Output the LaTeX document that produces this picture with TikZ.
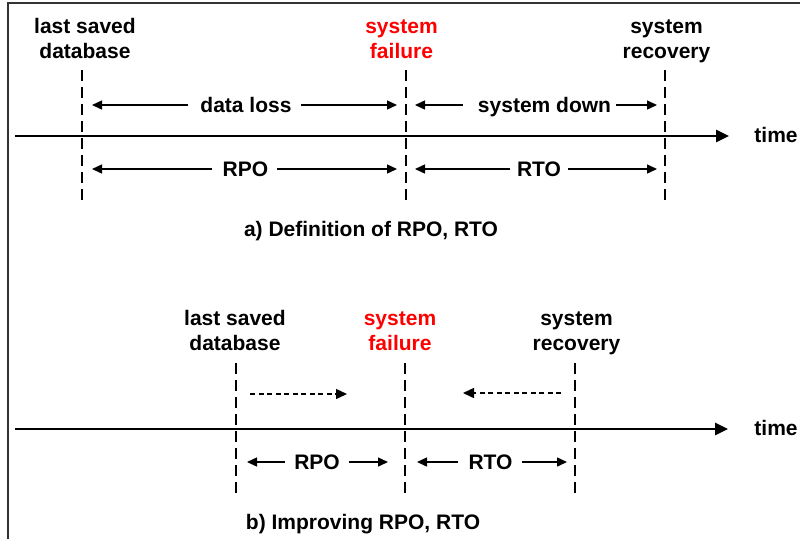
\documentclass[tikz,border=0pt]{standalone}
\usepackage{fontspec}
\setmainfont{Liberation Sans}
\usetikzlibrary{arrows.meta}
\definecolor{failred}{RGB}{255,0,0}
\begin{document}
\begin{tikzpicture}[x=1pt,y=-1pt,
  lbl/.style={font=\fontsize{21}{25}\selectfont\bfseries, align=center, inner sep=0pt, anchor=north},
  tag/.style={font=\fontsize{21}{25}\selectfont\bfseries, inner sep=0pt, text height=15pt, text depth=0pt},
  marker/.style={line width=2.3pt, dash pattern=on 11pt off 6pt},
  span/.style={line width=1.4pt, -{Triangle[length=10pt,width=9pt]}},
  shiftarr/.style={line width=1.5pt, dash pattern=on 5pt off 3.5pt, -{Triangle[length=11pt,width=10pt]}},
  axis/.style={line width=2.6pt, -{Triangle[length=13pt,width=12pt]}},
  frameline/.style={line width=1.5pt, black!80}]
\useasboundingbox (0,0) rectangle (800,539);

% outer frame (left and top edges)
\coordinate (fb) at (8,539);
\coordinate (fc) at (8,3);
\coordinate (fr) at (800,3);
\draw[frameline] (fb) -- (fc) -- (fr);

% ---------------- a) definition ----------------
\node[lbl] (sv1) at (85,17) {\rule{0pt}{16pt}last saved\\database};
\node[lbl, text=failred] (sf1) at (401.5,17) {\rule{0pt}{16pt}system\\failure};
\node[lbl] (sr1) at (666.5,17) {\rule{0pt}{16pt}system\\recovery};

\coordinate (m1t) at (82,70);  \coordinate (m1b) at (82,202);
\coordinate (m2t) at (406,70); \coordinate (m2b) at (406,202);
\coordinate (m3t) at (665,70); \coordinate (m3b) at (665,202);
\draw[marker] (m1t) -- (m1b);
\draw[marker] (m2t) -- (m2b);
\draw[marker] (m3t) -- (m3b);

\coordinate (ta) at (15,136);
\coordinate (tb) at (729,136);
\draw[axis] (ta) -- (tb);
\node[tag] (time1) at (776,135) {time};

% upper row
\node[tag] (dl) at (246,105) {data loss};
\coordinate (dlL) at (92,105);  \coordinate (dlR) at (397,105);
\draw[span] ([xshift=-12pt]dl.west) -- (dlL);
\draw[span] ([xshift=9.5pt]dl.east) -- (dlR);

\node[tag] (sd) at (544.5,105) {system down};
\coordinate (sdL) at (415,105); \coordinate (sdR) at (657,105);
\draw[span] ([xshift=-15pt]sd.west) -- (sdL);
\draw[span] ([xshift=5pt]sd.east) -- (sdR);

% lower row
\node[tag] (rpo1) at (245.5,169) {RPO};
\coordinate (rpo1L) at (92,169); \coordinate (rpo1R) at (397,169);
\draw[span] ([xshift=-11pt]rpo1.west) -- (rpo1L);
\draw[span] ([xshift=9pt]rpo1.east) -- (rpo1R);

\node[tag] (rto1) at (539,169) {RTO};
\coordinate (rto1L) at (415,169); \coordinate (rto1R) at (657,169);
\draw[span] ([xshift=-7pt]rto1.west) -- (rto1L);
\draw[span] ([xshift=7pt]rto1.east) -- (rto1R);

\node[tag] (capa) at (371,228.5) {a) Definition of RPO, RTO};

% ---------------- b) improving ----------------
\node[lbl] (sv2) at (235,309) {\rule{0pt}{16pt}last saved\\database};
\node[lbl, text=failred] (sf2) at (400,309) {\rule{0pt}{16pt}system\\failure};
\node[lbl] (sr2) at (576.5,309) {\rule{0pt}{16pt}system\\recovery};

\coordinate (n1t) at (236,363); \coordinate (n1b) at (236,494);
\coordinate (n2t) at (405,363); \coordinate (n2b) at (405,494);
\coordinate (n3t) at (575,363); \coordinate (n3b) at (575,494);
\draw[marker] (n1t) -- (n1b);
\draw[marker] (n2t) -- (n2b);
\draw[marker] (n3t) -- (n3b);

\coordinate (ua) at (15,429);
\coordinate (ub) at (728,429);
\draw[axis] (ua) -- (ub);
\node[tag] (time2) at (776,428) {time};

% shifting arrows
\coordinate (s1a) at (250,394); \coordinate (s1b) at (347,394);
\coordinate (s2a) at (561,393); \coordinate (s2b) at (463,393);
\draw[shiftarr] (s1a) -- (s1b);
\draw[shiftarr] (s2a) -- (s2b);

\node[tag] (rpo2) at (317,462) {RPO};
\coordinate (rpo2L) at (247,462); \coordinate (rpo2R) at (388,462);
\draw[span] ([xshift=-9pt]rpo2.west) -- (rpo2L);
\draw[span] ([xshift=9pt]rpo2.east) -- (rpo2R);

\node[tag] (rto2) at (490.5,462) {RTO};
\coordinate (rto2L) at (417,462); \coordinate (rto2R) at (567,462);
\draw[span] ([xshift=-10pt]rto2.west) -- (rto2L);
\draw[span] ([xshift=9pt]rto2.east) -- (rto2R);

\node[tag] (capb) at (363,522) {b) Improving RPO, RTO};
\end{tikzpicture}
\end{document}
